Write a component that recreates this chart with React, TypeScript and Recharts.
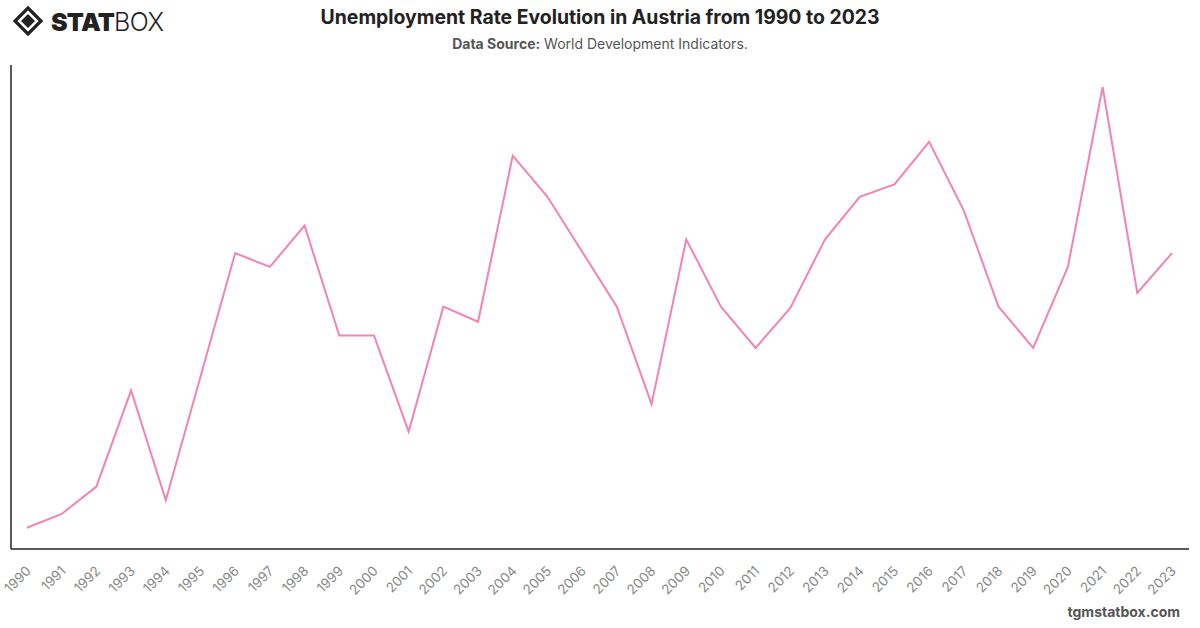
import React from 'react';
import { LineChart, Line, XAxis, YAxis } from 'recharts';

// Austria, unemployment (% of labour force), yearly
const years = [
  '1990', '1991', '1992', '1993', '1994', '1995', '1996', '1997', '1998', '1999',
  '2000', '2001', '2002', '2003', '2004', '2005', '2006', '2007', '2008', '2009',
  '2010', '2011', '2012', '2013', '2014', '2015', '2016', '2017', '2018', '2019',
  '2020', '2021', '2022', '2023',
];
const rates = [
  3.19, 3.29, 3.49, 4.19, 3.39, 4.29, 5.19, 5.09, 5.39, 4.59,
  4.59, 3.89, 4.8, 4.69, 5.9, 5.6, 5.2, 4.8, 4.09, 5.29,
  4.8, 4.5, 4.79, 5.29, 5.6, 5.69, 6.0, 5.5, 4.8, 4.5,
  5.09, 6.4, 4.9, 5.19,
];
const yDomain = [3.035, 6.56];

const data = years.map((year, i) => ({ year, rate: rates[i] }));

const FONT = 'Inter, "Noto Sans", "DejaVu Sans", sans-serif';

const YearTick = (props: any) => {
  const { x, y, payload } = props;
  return (
    <g transform={`translate(${x + 2},${y + 12})`}>
      <text
        x={0}
        y={0}
        dy={4}
        textAnchor="end"
        transform="rotate(-45)"
        fill="#8a8a8a"
        fontSize={13.5}
        fontFamily={FONT}
      >
        {payload.value}
      </text>
    </g>
  );
};

const Logo = () => (
  <svg width={180} height={40} style={{ position: 'absolute', left: 0, top: 0 }}>
    <g transform="translate(28,21)">
      <path d="M0,-13 L13,0 L0,13 L-13,0 Z" fill="none" stroke="#222" strokeWidth={3.2} />
      <path d="M0,-7 L7,0 L0,7 L-7,0 Z" fill="#222" />
    </g>
    <text x={51} y={31} fontFamily={FONT} fontSize={25} fontWeight={900} fill="#222" letterSpacing={-0.8}>
      STAT
      <tspan fontWeight={300} letterSpacing={-0.5}>BOX</tspan>
    </text>
  </svg>
);

export default function App() {
  return (
    <div
      style={{
        position: 'fixed',
        left: 0,
        top: 0,
        width: 1200,
        height: 628,
        background: '#fff',
        fontFamily: FONT,
      }}
    >
      <Logo />
      <div
        style={{
          position: 'absolute',
          left: 0,
          width: 1200,
          top: 5,
          textAlign: 'center',
          fontSize: 19.4,
          fontWeight: 700,
          color: '#222',
        }}
      >
        Unemployment Rate Evolution in Austria from 1990 to 2023
      </div>
      <div
        style={{
          position: 'absolute',
          left: 0,
          width: 1200,
          top: 35,
          textAlign: 'center',
          fontSize: 14,
          color: '#555',
        }}
      >
        <b>Data Source:</b> World Development Indicators.
      </div>
      <div style={{ position: 'absolute', left: 0, top: 0 }}>
        <LineChart
          width={1200}
          height={628}
          data={data}
          margin={{ top: 65, right: 11, bottom: 0, left: 9 }}
        >
          <XAxis
            dataKey="year"
            interval={0}
            height={79}
            tickLine={false}
            axisLine={{ stroke: '#222', strokeWidth: 1.5 }}
            padding={{ left: 16, right: 17 }}
            tick={<YearTick />}
          />
          <YAxis
            domain={yDomain}
            width={2}
            tick={false}
            tickLine={false}
            axisLine={{ stroke: '#222', strokeWidth: 1.5 }}
            allowDataOverflow
          />
          <Line
            type="linear"
            dataKey="rate"
            stroke="#f283b3"
            strokeWidth={2}
            dot={false}
            isAnimationActive={false}
          />
        </LineChart>
      </div>
      <div
        style={{
          position: 'absolute',
          right: 20,
          top: 603,
          fontSize: 14,
          fontWeight: 700,
          color: '#555',
        }}
      >
        tgmstatbox.com
      </div>
    </div>
  );
}
